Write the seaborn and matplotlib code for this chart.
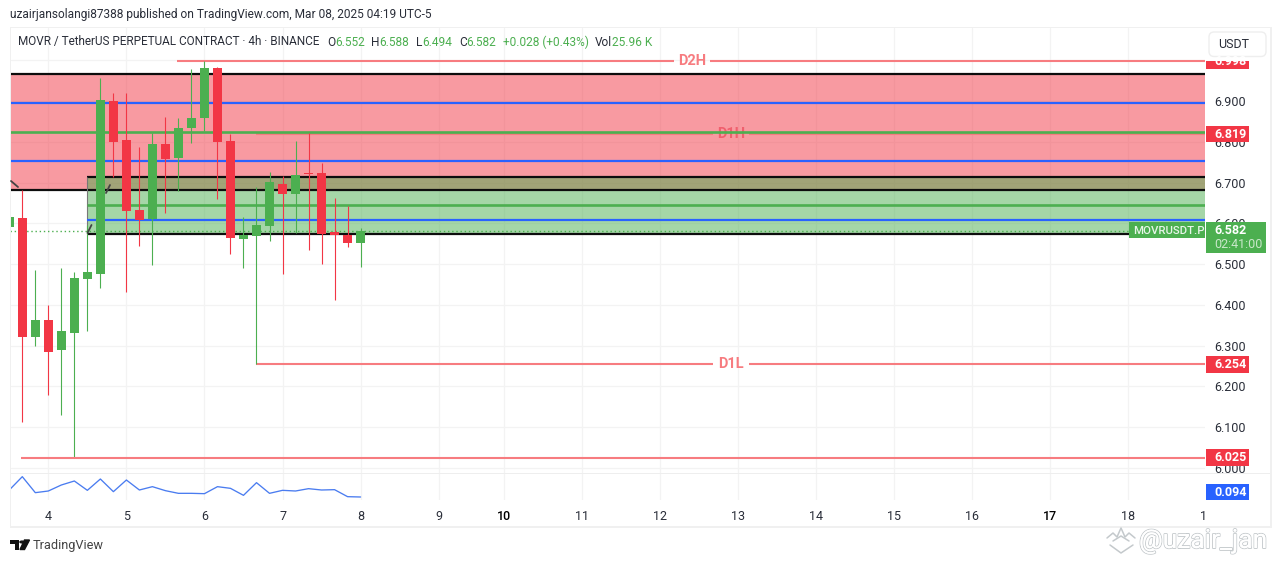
import numpy as np
import matplotlib
matplotlib.use("Agg")
import matplotlib.pyplot as plt
import matplotlib.patheffects as pe
from matplotlib.lines import Line2D
from matplotlib.patches import Rectangle, FancyBboxPatch, Circle, Polygon
import seaborn as sns

# ---- data ----
bar_index = np.arange(-1, 27)
opens = [6.591, 6.613, 6.322, 6.363, 6.290, 6.331, 6.464, 6.476, 6.900, 6.804, 6.633, 6.611, 6.795, 6.760,
         6.834, 6.858, 6.981, 6.802, 6.562, 6.569, 6.594, 6.696, 6.672, 6.7235, 6.724, 6.579, 6.572, 6.552]
closes = [6.616, 6.322, 6.363, 6.285, 6.336, 6.466, 6.481, 6.902, 6.800, 6.630, 6.608, 6.795, 6.758, 6.834,
          6.858, 6.981, 6.800, 6.564, 6.572, 6.596, 6.701, 6.672, 6.719, 6.7215, 6.574, 6.572, 6.552, 6.582]
highs = [6.616, 6.682, 6.486, 6.400, 6.491, 6.481, 6.596, 6.956, 6.920, 6.920, 6.787, 6.822, 6.861, 6.858,
         6.978, 6.998, 6.983, 6.819, 6.616, 6.689, 6.726, 6.716, 6.802, 6.822, 6.748, 6.662, 6.643, 6.588]
lows = [6.591, 6.112, 6.300, 6.178, 6.129, 6.025, 6.336, 6.442, 6.714, 6.432, 6.545, 6.498, 6.625, 6.679,
        6.797, 6.826, 6.660, 6.525, 6.491, 6.254, 6.557, 6.476, 6.576, 6.535, 6.500, 6.412, 6.542, 6.494]
osc_values = [0.136, 0.216, 0.120, 0.130, 0.166, 0.190, 0.134, 0.202, 0.126, 0.196, 0.136, 0.156, 0.132, 0.116,
              0.116, 0.114, 0.156, 0.146, 0.104, 0.180, 0.116, 0.134, 0.130, 0.144, 0.136, 0.138, 0.096, 0.094]

price_ticks = [6.0, 6.1, 6.2, 6.3, 6.4, 6.5, 6.6, 6.7, 6.8, 6.9, 7.0]
price_labels = ['6.000', '6.100', '6.200', '6.300', '6.400', '6.500', '6.600', '6.700', '6.800', '6.900', '']
day_ticks = [2, 8, 14, 20, 26, 32, 37, 43, 49, 55, 61, 67, 73, 79, 85, 90.8]
day_labels = ['4', '5', '6', '7', '8', '9', '10', '11', '12', '13', '14', '15', '16', '17', '18', '1']

red_zone = (6.682, 6.966)
green_zone = (6.574, 6.714)
blue_levels = [6.895, 6.753]
green_levels = [6.824]
zone_blue = 6.608
zone_green = 6.645
d2h, d1h, d1l, low_level, last_close = 6.998, 6.819, 6.254, 6.025, 6.582

# ---- colours / layout ----
RED, GREEN, BLUE = '#f23645', '#4caf50', '#2962ff'
LEVEL = '#f77c80'
TXT = '#2a2e39'
GRID = '#f3f3f3'
W, H = 1281, 563
FONT = ['Roboto', 'DejaVu Sans']

sns.set_theme(style='whitegrid', rc={'grid.color': GRID, 'grid.linewidth': 0.9, 'axes.edgecolor': GRID})
plt.rcParams['font.family'] = FONT

fig = plt.figure(figsize=(W / 100, H / 100), dpi=100, facecolor='white')


def pane(x0, y0, x1, y1):
    return fig.add_axes([x0 / W, 1 - y1 / H, (x1 - x0) / W, (y1 - y0) / H])


ax = pane(10.5, 28, 1205, 473)
ax2 = pane(10.5, 473, 1205, 500)
xlim = (-0.907, 90.9)


def bx(px_x):
    return (px_x - 22.3) / 13.01


# ---- candles ----
df_open, df_close = np.array(opens), np.array(closes)
up = df_close >= df_open
for mask, col in ((up, GREEN), (~up, RED)):
    body_low = np.minimum(df_open, df_close)[mask]
    body_h = np.abs(df_close - df_open)[mask]
    sns.barplot(x=bar_index[mask], y=body_h, bottom=body_low, native_scale=True, color=col, saturation=1,
                width=0.69, errorbar=None, linewidth=0, zorder=4, ax=ax)
    ax.vlines(bar_index[mask], np.array(lows)[mask], np.array(highs)[mask], color=col, lw=0.8, zorder=3.9)

# ---- zones ----
ax.axhspan(*red_zone, color=RED, alpha=0.5, lw=0, zorder=1)
ax.axhspan(*green_zone, xmin=(5 - xlim[0]) / (xlim[1] - xlim[0]), color=GREEN, alpha=0.5, lw=0, zorder=1.1)
ax.hlines(red_zone, xlim[0], xlim[1], color='#0d0d0d', lw=1.6, zorder=2, snap=True)
ax.hlines(green_zone, 5, xlim[1], color='#0d0d0d', lw=1.6, zorder=2, snap=True)
ax.vlines(5, green_zone[0], green_zone[1], color='#777777', lw=0.8, zorder=2)
ax.hlines(blue_levels, xlim[0], xlim[1], color=BLUE, lw=1.6, zorder=2.2, snap=True)
ax.hlines(green_levels, xlim[0], xlim[1], color=GREEN, lw=1.9, zorder=2.3, snap=True)
ax.hlines(zone_blue, 5, xlim[1], color=BLUE, lw=1.6, zorder=2.2, snap=True)
ax.hlines(zone_green, 5, xlim[1], color=GREEN, lw=1.9, zorder=2.2, snap=True)
ax.hlines(last_close, xlim[0], xlim[1], color=GREEN, lw=1.0, linestyles=(0, (1, 2)), zorder=2.4)


# ---- labelled levels ----
def level(value, start, label, centre_px, label_color=LEVEL, zorder=2.25):
    c = bx(centre_px)
    ax.hlines(value, start, c - 1.4, color=LEVEL, lw=1.5, zorder=zorder, snap=True)
    ax.hlines(value, c + 1.4, xlim[1], color=LEVEL, lw=1.5, zorder=zorder, snap=True)
    ax.text(c, value, label, color=label_color, fontsize=10.5, fontweight='bold', ha='center', va='center',
            zorder=zorder)


level(d2h, bx(177), 'D2H', 692)
level(d1h, 18, 'D1H', 731, label_color='#f0606e', zorder=2.25)
level(d1l, 18, 'D1L', 731)
ax.hlines(low_level, bx(21), xlim[1], color=LEVEL, lw=1.5, zorder=4.5, snap=True)

# ---- axes ----
ax.set_xlim(xlim)
ax.set_ylim(6.9 - (473 - 101) / 407.8, 6.9 + (101 - 28) / 407.8)
ax.set_xticks(day_ticks)
ax.set_xticklabels([])
ax.set_yticks(price_ticks)
ax.yaxis.tick_right()
ax.set_yticklabels(price_labels, ha='left', fontsize=9, color=TXT)
ax.tick_params(axis='y', length=0, pad=6.5)
ax.tick_params(axis='x', length=0)
ax.grid(True, zorder=0.5)
ax.set_axisbelow(True)
ax.set_xlabel('')
ax.set_ylabel('')
ax.xaxis.get_gridlines()[-1].set_visible(False)
for s in ax.spines.values():
    s.set_visible(False)

sns.lineplot(x=bar_index, y=osc_values, color='#4a7cf0', lw=0.95, ax=ax2)
ax2.set_xlim(xlim)
ax2.set_ylim(0.076, 0.238)
ax2.set_xticks(day_ticks)
ax2.set_xticklabels(day_labels, fontsize=9, color=TXT)
ax2.set_yticks([])
ax2.tick_params(axis='x', length=0, pad=7)
ax2.grid(True, axis='x')
ax2.xaxis.get_gridlines()[-1].set_visible(False)
for lab in ax2.get_xticklabels():
    if lab.get_text() in ('10', '17'):
        lab.set_color('#000000')
        lab.set_fontweight('medium')
for s in ax2.spines.values():
    s.set_visible(False)


# ---- helpers in picture pixels ----
def rect(x0, y0, x1, y1, color, zorder=5, **kw):
    fig.add_artist(Rectangle((x0 / W, 1 - y1 / H), (x1 - x0) / W, (y1 - y0) / H, transform=fig.transFigure,
                             facecolor=color, edgecolor='none', zorder=zorder, **kw))


def label(x, y, s, color=TXT, size=9, weight='normal', ha='left', zorder=8, **kw):
    return fig.text(x / W, 1 - y / H, s, color=color, fontsize=size, fontweight=weight, ha=ha, va='center',
                    zorder=zorder, **kw)


def price_y(v):
    return H - ax.transData.transform((0, v))[1]


def price_tag(v, text):
    y = price_y(v)
    rect(1206, y - 8.4, 1249, y + 8.4, RED)
    label(1214, y, text, color='white', weight='bold')


price_tag(d2h, '6.998')
price_tag(d1h, '6.819')
price_tag(d1l, '6.254')
price_tag(low_level, '6.025')
rect(1206, 28, 1270, 60.7, 'white', zorder=6)  # top of the 6.998 tag is hidden in the reference

rect(1206, 484, 1249, 500, BLUE)
label(1214, 492, '0.094', color='white', weight='bold')
rect(1129, 222, 1205, 238, GREEN)
label(1133, 230.5, 'MOVRUSDT.P', color='#e8f5e9', size=8.2, weight='medium')
rect(1206, 222, 1266, 252.7, GREEN)
label(1214, 231, '6.582', color='white', weight='bold')
label(1214, 244, '02:41:00', color='#c9e7ca', size=9)

# frame
rect(9.5, 27, 1271.5, 28, '#f0f0f0', zorder=4)
rect(9.5, 526, 1271.5, 528, '#f0f0f0', zorder=4)
rect(9.5, 27, 10.5, 528, '#f0f0f0', zorder=4)
rect(1270, 27, 1271.5, 528, '#f0f0f0', zorder=4)
rect(10.5, 472.5, 1270, 473.5, '#eeeeee', zorder=0.5)

fig.add_artist(FancyBboxPatch((1209 / W, 1 - 56.5 / H), 57 / W, 24.5 / H, boxstyle='round,pad=0,rounding_size=0.004',
                              mutation_aspect=W / H, transform=fig.transFigure, facecolor='white',
                              edgecolor='#eeeeee', lw=1, zorder=7))
label(1218, 44.5, 'USDT', size=9)

# trend ticks
for (x0, y0, x1, y1) in [(11, 181, 18, 187), (106, 193, 110, 185), (87.5, 233, 91.5, 225)]:
    fig.add_artist(Line2D([x0 / W, x1 / W], [1 - y0 / H, 1 - y1 / H], color='#444444', lw=1.3,
                          transform=fig.transFigure, zorder=6))

# ---- header text ----
label(10, 14.5, 'uzairjansolangi87388 published on TradingView.com, Mar 08, 2025 04:19 UTC-5', size=8.6)
label(18, 42, 'MOVR / TetherUS PERPETUAL CONTRACT · 4h · BINANCE', size=8.45)
for x, s in [(327, 'O'), (371, 'H'), (416, 'L'), (459, 'C'), (595, 'Vol')]:
    label(x, 42, s, size=8.6)
for x, s in [(335, '6.552'), (379, '6.588'), (422, '6.494'), (466, '6.582'), (503, '+0.028 (+0.43%)'),
             (612, '25.96 K')]:
    label(x, 42, s, size=8.6, color=GREEN)

# ---- logo + watermark ----
rect(10, 540, 19, 544, '#111111', zorder=8)
rect(14.5, 540, 19, 549.5, '#111111', zorder=8)
fig.add_artist(Circle((22 / W, 1 - 542 / H), 2 / W, transform=fig.transFigure, color='#111111', zorder=8))
fig.add_artist(Polygon([(24.5 / W, 1 - 540 / H), (29.5 / W, 1 - 540 / H), (24.5 / W, 1 - 549.5 / H),
                        (20 / W, 1 - 549.5 / H)], transform=fig.transFigure, color='#111111', zorder=8))
label(33, 545.5, 'TradingView', size=9.2, color='#444444')

wm = label(1139, 541, '@uzair_jan', size=19, color='#ffffff', zorder=9)
wm.set_path_effects([pe.withStroke(linewidth=1.3, foreground='#c4c9cc'), pe.Normal()])
for pts in ([(1107, 538), (1113, 533), (1117, 537), (1121, 528), (1125, 537), (1129, 533), (1135, 538)],
            [(1113, 541), (1121, 536), (1129, 541)], [(1110, 545), (1121, 553), (1133, 545)]):
    xs, ys = zip(*pts)
    fig.add_artist(Line2D(np.array(xs) / W, 1 - np.array(ys) / H, color='#c4c9cc', lw=1.1,
                          transform=fig.transFigure, zorder=9))

fig.savefig('out.png', dpi=100, facecolor='white')
